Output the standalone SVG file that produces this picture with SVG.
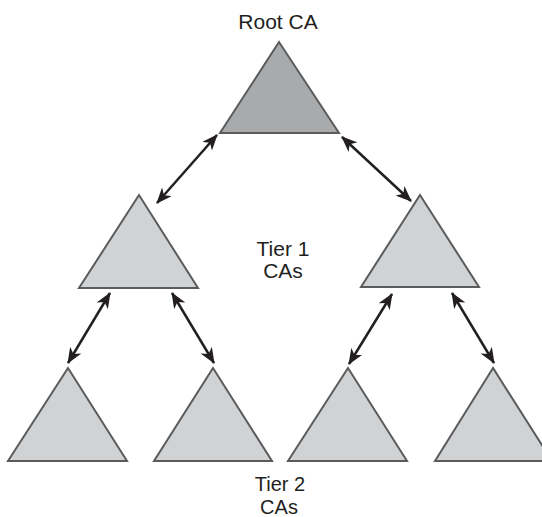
<svg xmlns="http://www.w3.org/2000/svg" width="542" height="517" viewBox="0 0 542 517">
  <style>
    .tri { fill: #d1d2d4; stroke: #5a5b5d; stroke-width: 2; stroke-linejoin: miter; }
    .root { fill: #a9aaac; }
    .lbl { font-family: "Liberation Sans", Arial, sans-serif; font-size: 21px; fill: #231f20; text-anchor: middle; }
    .small { font-size: 20px; }
    .conn { stroke: #231f20; stroke-width: 2.5; fill: none; marker-start: url(#ah); marker-end: url(#ah); }
  </style>
  <defs>
    <marker id="ah" viewBox="0 0 16 13" refX="15" refY="6.5" markerWidth="16" markerHeight="13" markerUnits="userSpaceOnUse" orient="auto-start-reverse">
      <path d="M0,0 L16,6.5 L0,13 L4.5,6.5 z" fill="#231f20"/>
    </marker>
  </defs>
  <rect width="542" height="517" fill="#ffffff"/>

  <g id="root-ca">
    <polygon class="tri root" points="279,42 220,133 339,133"/>
    <text class="lbl" x="278" y="29">Root CA</text>
  </g>
  <g id="tier1-left">
    <polygon class="tri" points="139,195 79,288 198,288"/>
  </g>
  <g id="tier1-right">
    <polygon class="tri" points="420,195 361,287 479,287"/>
  </g>
  <g id="tier1-label">
    <text class="lbl" x="283" y="256">Tier 1</text>
    <text class="lbl" x="283" y="278">CAs</text>
  </g>
  <g id="tier2-a">
    <polygon class="tri" points="68,368 8,461 127,461"/>
  </g>
  <g id="tier2-b">
    <polygon class="tri" points="213,368 154,461 272,461"/>
  </g>
  <g id="tier2-c">
    <polygon class="tri" points="348,368 288,461 407,461"/>
  </g>
  <g id="tier2-d">
    <polygon class="tri" points="493,368 435,461 552,461"/>
  </g>
  <g id="tier2-label">
    <text class="lbl small" x="280" y="491">Tier 2</text>
    <text class="lbl small" x="279" y="514">CAs</text>
  </g>

  <g id="connectors">
    <line class="conn" x1="217" y1="135" x2="157" y2="203"/>
    <line class="conn" x1="342" y1="137" x2="411" y2="201"/>
    <line class="conn" x1="110" y1="293" x2="68" y2="363"/>
    <line class="conn" x1="172" y1="293" x2="214" y2="363"/>
    <line class="conn" x1="392" y1="294" x2="349" y2="364"/>
    <line class="conn" x1="452" y1="293" x2="494" y2="363"/>
  </g>
</svg>
